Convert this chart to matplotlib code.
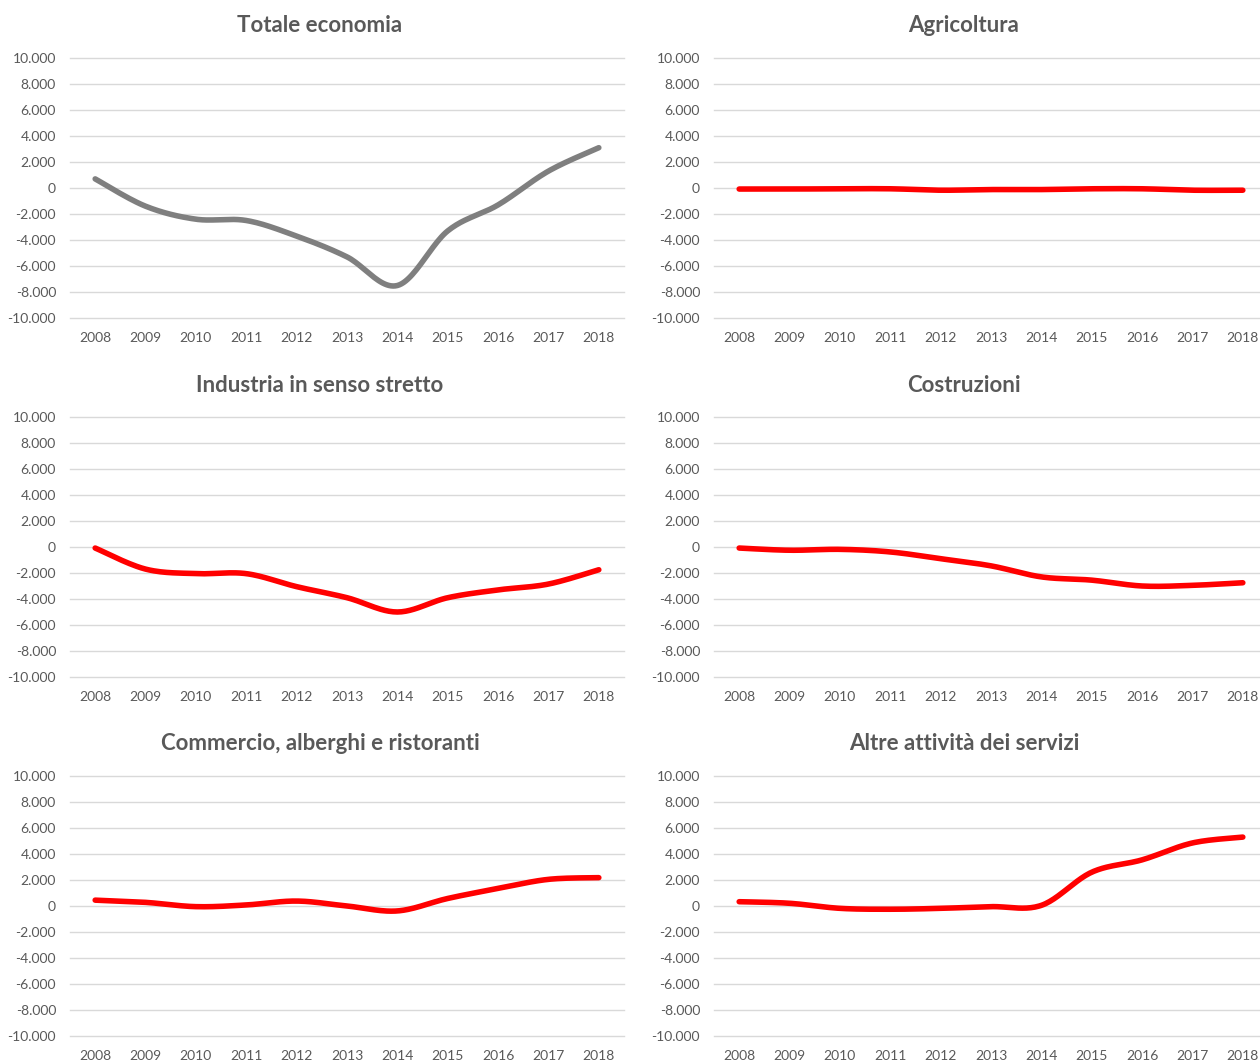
import numpy as np
import matplotlib
matplotlib.use("Agg")
import matplotlib.pyplot as plt
from matplotlib.ticker import FuncFormatter

plt.rcParams['font.family'] = ['Lato', 'DejaVu Sans']

# occupati, variazione rispetto al 2008 (migliaia)
anni = [str(a) for a in range(2008, 2019)]

totale = [700, -1400, -2400, -2500, -3700, -5300, -7500, -3300, -1300, 1300, 3100]
agricoltura = [-80, -80, -60, -60, -170, -120, -120, -60, -60, -170, -170]
industria = [-80, -1700, -2050, -2050, -3050, -3900, -5000, -3900, -3300, -2850, -1750]
costruzioni = [-80, -250, -180, -380, -900, -1450, -2300, -2550, -3000, -2950, -2750]
commercio = [450, 280, -50, 80, 380, 0, -380, 580, 1350, 2050, 2180]
altre_servizi = [330, 210, -180, -250, -180, -50, 50, 2600, 3550, 4850, 5300]

titoli = ["Totale economia", "Agricoltura", "Industria in senso stretto",
          "Costruzioni", "Commercio, alberghi e ristoranti", "Altre attività dei servizi"]
serie = [totale, agricoltura, industria, costruzioni, commercio, altre_servizi]
colori = ['#7f7f7f', '#ff0000', '#ff0000', '#ff0000', '#ff0000', '#ff0000']

GRIGIO = '#595959'
W, H = 1260, 1061


def smooth(x, y, n=24):
    # curva morbida tipo Excel (bezier con tangenti catmull-rom)
    pts = np.column_stack([x, y]).astype(float)
    p = np.vstack([pts[0], pts, pts[-1]])
    t = np.linspace(0, 1, n, endpoint=False)[:, None]
    out = []
    for i in range(1, len(p) - 2):
        p0, p1, p2, p3 = p[i - 1], p[i], p[i + 1], p[i + 2]
        c1 = p1 + (p2 - p0) / 6
        c2 = p2 - (p3 - p1) / 6
        out.append((1 - t) ** 3 * p1 + 3 * (1 - t) ** 2 * t * c1
                   + 3 * (1 - t) * t ** 2 * c2 + t ** 3 * p2)
    out.append(pts[-1:])
    out = np.vstack(out)
    return out[:, 0], out[:, 1]


fmt = FuncFormatter(lambda v, pos: f"{int(v):,}".replace(",", "."))

fig = plt.figure(figsize=(W / 100, H / 100), dpi=100)

col_x = [70, 714]
col_w = 554
row_top = [58, 417, 776]
row_h = 260
titolo_x = [320, 964]
titolo_y = [25, 385, 744]

x = np.arange(len(anni))
for k, (tit, vals, col) in enumerate(zip(titoli, serie, colori)):
    r, c = divmod(k, 2)
    ax = fig.add_axes([col_x[c] / W, 1 - (row_top[r] + row_h) / H, col_w / W, row_h / H])
    xs, ys = smooth(x, vals)
    ax.plot(xs, ys, color=col, lw=4.0, solid_capstyle='round', zorder=3)

    ax.set_xlim(-0.5, len(anni) - 0.5)
    ax.set_ylim(-10000, 10000)
    ax.set_yticks(np.arange(-10000, 10001, 2000))
    ax.yaxis.set_major_formatter(fmt)
    ax.set_xticks(x)
    ax.set_xticklabels(anni)
    ax.tick_params(length=0, labelsize=10, labelcolor=GRIGIO)
    ax.tick_params(axis='y', pad=10)
    ax.tick_params(axis='x', pad=10)
    for s in ax.spines.values():
        s.set_visible(False)
    ax.grid(axis='y', color='#d9d9d9', lw=1)
    ax.set_axisbelow(True)
    for gl in ax.get_ygridlines():
        gl.set_clip_on(False)

    fig.text(titolo_x[c] / W, 1 - titolo_y[r] / H, tit, ha='center', va='center',
             fontsize=16, fontweight='bold', color=GRIGIO)

fig.savefig("out.png", dpi=100)
